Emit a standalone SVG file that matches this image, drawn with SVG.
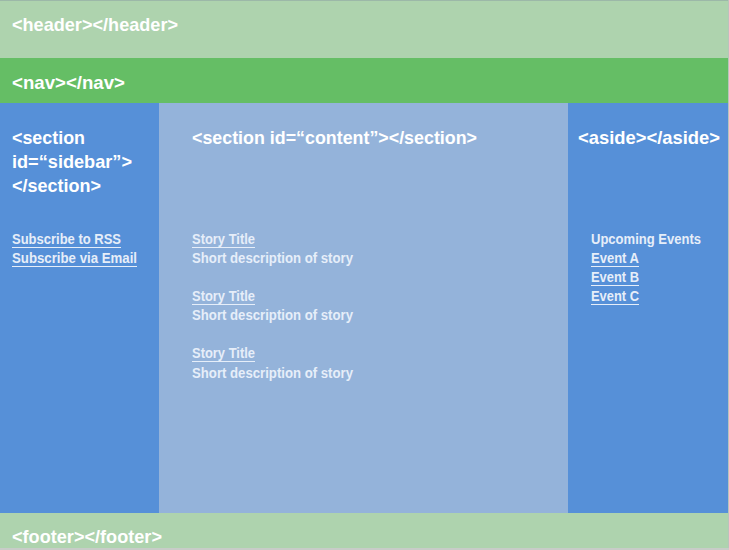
<svg xmlns="http://www.w3.org/2000/svg" width="729" height="550" viewBox="0 0 729 550">
<style>
.t{font-family:"Liberation Sans Narrow","Liberation Sans",Arial,sans-serif;font-weight:bold;fill:#ffffff}
.h{font-size:19px}
.s{font-size:14.5px;fill:#e6eef9}
.u{stroke:#e6eef9;stroke-width:1.2}
</style>
<rect x="0" y="0" width="729" height="550" fill="#ffffff"/>
<g id="header">
<rect x="0" y="0" width="729" height="58" fill="#aed3ae"/>
<rect x="0" y="0" width="729" height="1" fill="#9cb8a8"/>
<text class="t h" x="12" y="31" textLength="166" lengthAdjust="spacingAndGlyphs">&lt;header&gt;&lt;/header&gt;</text>
</g>
<g id="nav">
<rect x="0" y="58" width="729" height="45" fill="#65be65"/>
<text class="t h" x="12" y="89" textLength="113" lengthAdjust="spacingAndGlyphs">&lt;nav&gt;&lt;/nav&gt;</text>
</g>
<g id="sidebar">
<rect x="0" y="103" width="159" height="410" fill="#5690d8"/>
<text class="t h" x="12" y="144" textLength="73" lengthAdjust="spacingAndGlyphs">&lt;section</text>
<text class="t h" x="12" y="168" textLength="120" lengthAdjust="spacingAndGlyphs">id=“sidebar”&gt;</text>
<text class="t h" x="12" y="192" textLength="89" lengthAdjust="spacingAndGlyphs">&lt;/section&gt;</text>
<text class="t s" x="12" y="244" textLength="109" lengthAdjust="spacingAndGlyphs">Subscribe to RSS</text>
<line class="u" x1="12" y1="247.5" x2="121" y2="247.5"/>
<text class="t s" x="12" y="263" textLength="125" lengthAdjust="spacingAndGlyphs">Subscribe via Email</text>
<line class="u" x1="12" y1="266.5" x2="137" y2="266.5"/>
</g>
<g id="content">
<rect x="159" y="103" width="409" height="410" fill="#94b3da"/>
<text class="t h" x="192" y="144" textLength="285" lengthAdjust="spacingAndGlyphs">&lt;section id=“content”&gt;&lt;/section&gt;</text>
<text class="t s" x="192" y="244" textLength="63" lengthAdjust="spacingAndGlyphs">Story Title</text>
<line class="u" x1="192" y1="247.5" x2="255" y2="247.5"/>
<text class="t s" x="192" y="263" textLength="161" lengthAdjust="spacingAndGlyphs">Short description of story</text>
<text class="t s" x="192" y="301" textLength="63" lengthAdjust="spacingAndGlyphs">Story Title</text>
<line class="u" x1="192" y1="304.5" x2="255" y2="304.5"/>
<text class="t s" x="192" y="320" textLength="161" lengthAdjust="spacingAndGlyphs">Short description of story</text>
<text class="t s" x="192" y="358" textLength="63" lengthAdjust="spacingAndGlyphs">Story Title</text>
<line class="u" x1="192" y1="361.5" x2="255" y2="361.5"/>
<text class="t s" x="192" y="378" textLength="161" lengthAdjust="spacingAndGlyphs">Short description of story</text>
</g>
<g id="aside">
<rect x="568" y="103" width="160" height="410" fill="#5690d8"/>
<text class="t h" x="578" y="144" textLength="142" lengthAdjust="spacingAndGlyphs">&lt;aside&gt;&lt;/aside&gt;</text>
<text class="t s" x="591" y="244" textLength="110" lengthAdjust="spacingAndGlyphs">Upcoming Events</text>
<text class="t s" x="591" y="263" textLength="48" lengthAdjust="spacingAndGlyphs">Event A</text>
<line class="u" x1="591" y1="266.5" x2="639" y2="266.5"/>
<text class="t s" x="591" y="282" textLength="48" lengthAdjust="spacingAndGlyphs">Event B</text>
<line class="u" x1="591" y1="285.5" x2="639" y2="285.5"/>
<text class="t s" x="591" y="301" textLength="48" lengthAdjust="spacingAndGlyphs">Event C</text>
<line class="u" x1="591" y1="304.5" x2="639" y2="304.5"/>
</g>
<g id="footer">
<rect x="0" y="513" width="729" height="35" fill="#aed3ae"/>
<text class="t h" x="12" y="543" textLength="150" lengthAdjust="spacingAndGlyphs">&lt;footer&gt;&lt;/footer&gt;</text>
</g>
<rect x="728" y="0" width="1" height="550" fill="#b8c4bc"/>
<rect x="0" y="548" width="729" height="2" fill="#c8ccc8"/>
<g id="connectors"/>
</svg>
